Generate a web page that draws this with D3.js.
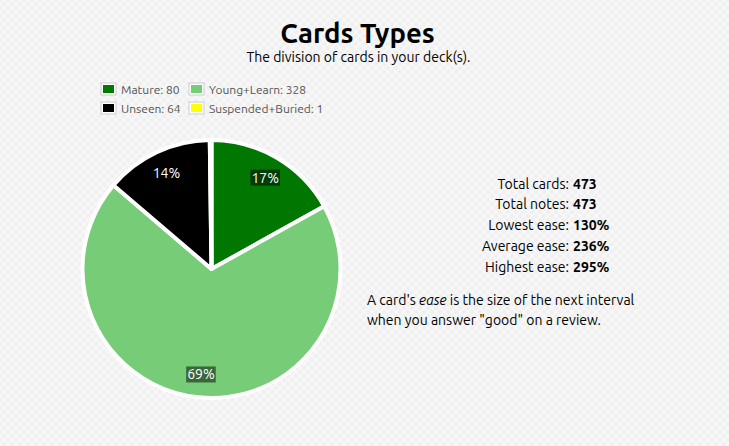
<!DOCTYPE html>
<html><head><meta charset="utf-8">
<script src="https://cdn.jsdelivr.net/npm/d3@7"></script>
<style>
html,body{margin:0;padding:0;background:#f2f2f2;}
svg{display:block;}
</style></head>
<body>
<script>
const categories = ["Mature", "Young+Learn", "Unseen", "Suspended+Buried"];
const counts = [80, 328, 64, 1];
const colors = ["#007700", "#77cc77", "#000000", "#ffff00"];
const statLabels = ["Total cards:", "Total notes:", "Lowest ease:", "Average ease:", "Highest ease:"];
const statValues = ["473", "473", "130%", "236%", "295%"];

const W = 729, H = 446;
const font = "Ubuntu, 'Noto Sans', 'Open Sans', sans-serif";
const svg = d3.select("body").append("svg").attr("width", W).attr("height", H);

// background pattern
const defs = svg.append("defs");
const pat = defs.append("pattern").attr("id","bg").attr("width",8).attr("height",8).attr("patternUnits","userSpaceOnUse");
pat.append("rect").attr("width",8).attr("height",8).attr("fill","#f0f0f0");
pat.append("path").attr("d","M0,4 L4,0 L8,4 L4,8 Z").attr("fill","none").attr("stroke","#fbfbfb").attr("stroke-width",1.2);
svg.append("rect").attr("width",W).attr("height",H).attr("fill","url(#bg)");

// title
svg.append("text").attr("x",357.5).attr("y",43).attr("text-anchor","middle")
  .attr("font-family",font).attr("font-weight","bold").attr("font-size",27.5).attr("fill","#000").text("Cards Types");
svg.append("text").attr("x",358.5).attr("y",62).attr("text-anchor","middle")
  .attr("font-family",font).attr("font-size",14).attr("fill","#000").text("The division of cards in your deck(s).");

// legend
const legPos = [[101,83],[189,83],[101,102],[189,102]];
const leg = svg.append("g");
categories.forEach((c,i)=>{
  const g = leg.append("g").attr("transform",`translate(${legPos[i][0]},${legPos[i][1]})`);
  g.append("rect").attr("x",0).attr("y",0).attr("width",15).attr("height",12).attr("fill","#fff").attr("stroke","#ccc");
  g.append("rect").attr("x",2).attr("y",2).attr("width",11).attr("height",8).attr("fill",colors[i]);
  g.append("text").attr("x",20).attr("y",10.5).attr("font-family",font).attr("font-size",12).attr("fill","#545454")
    .text(`${c}: ${counts[i]}`);
});

// pie
const cx = 211.5, cy = 269, R = 129;
const total = d3.sum(counts);
const data = categories.map((c,i)=>({c, v: counts[i], col: colors[i]}));
const pie = d3.pie().value(d=>d.v).sort(null);
const arc = d3.arc().innerRadius(0).outerRadius(R);
const labelArc = d3.arc().innerRadius(106).outerRadius(106);
const pg = svg.append("g").attr("transform",`translate(${cx},${cy})`);
const arcs = pie(data);
pg.selectAll("path").data(arcs).join("path")
  .attr("d",arc).attr("fill",d=>d.data.col).attr("stroke","#fff").attr("stroke-width",4).attr("stroke-linejoin","round");

const lab = pg.selectAll("g.lab").data(arcs.filter(d=>d.data.v/total>0.05)).join("g").attr("class","lab")
  .attr("transform",d=>`translate(${labelArc.centroid(d)})`);
lab.each(function(d){
  const g = d3.select(this);
  const t = g.append("text").attr("text-anchor","middle").attr("y",5).attr("font-family",font).attr("font-size",14)
    .attr("fill","#fff").text(Math.round(d.data.v/total*100)+"%");
  const bb = t.node().getBBox();
  g.insert("rect","text").attr("x",bb.x-1).attr("y",bb.y).attr("width",bb.width+2).attr("height",bb.height)
    .attr("fill","#000").attr("fill-opacity",0.5);
});

// stats table
const st = svg.append("g");
statLabels.forEach((l,i)=>{
  const y = 188.5 + i*20.8;
  st.append("text").attr("x",569).attr("y",y).attr("text-anchor","end").attr("font-family",font).attr("font-size",14).attr("fill","#000").text(l);
  st.append("text").attr("x",573).attr("y",y).attr("font-family",font).attr("font-weight","bold").attr("font-size",14).attr("fill","#000").text(statValues[i]);
});

// explanation
const p1 = svg.append("text").attr("x",367).attr("y",305).attr("font-family",font).attr("font-size",14).attr("fill","#000");
p1.append("tspan").text("A card's ");
p1.append("tspan").attr("font-style","italic").text("ease");
p1.append("tspan").text(" is the size of the next interval");
svg.append("text").attr("x",367).attr("y",325).attr("font-family",font).attr("font-size",14).attr("fill","#000")
  .text('when you answer "good" on a review.');
</script>
</body></html>
